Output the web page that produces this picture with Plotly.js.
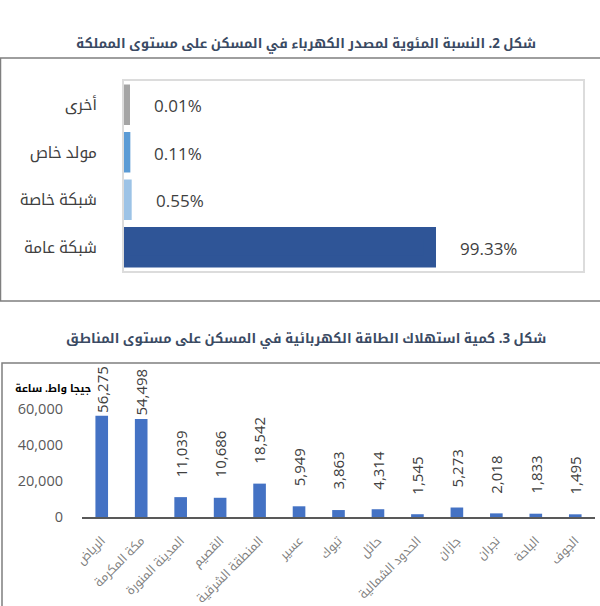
<!DOCTYPE html>
<html>
<head>
<meta charset="utf-8">
<script src="https://cdn.plot.ly/plotly-3.0.1.min.js"></script>
<style>
  html, body { margin: 0; padding: 0; background: #fff; }
</style>
</head>
<body>
<div id="chart" style="width:600px;height:606px;"></div>
<script>
// fig 2: share of dwellings by electricity source (percent)
const sourceNames = ["شبكة عامة", "شبكة خاصة", "مولد خاص", "أخرى"];
const sourceShares = [99.33, 0.55, 0.11, 0.01];
const sourceColors = ["#2f5597", "#9dc3e6", "#5b9bd5", "#a5a5a5"];

// fig 3: household electricity use by region (GWh)
const regionNames = [
  "الرياض", "مكة المكرمة", "المدينة المنورة", "القصيم", "المنطقة الشرقية",
  "عسير", "تبوك", "حائل", "الحدود الشمالية", "جازان", "نجران", "الباحة", "الجوف"
];
const regionUse = [56275, 54498, 11039, 10686, 18542, 5949, 3863, 4314, 1545, 5273, 2018, 1833, 1495];
const useTicks = [0, 20000, 40000, 60000];

const W = 600, H = 606;
// Open Sans for the digits, Arabic glyphs fall through to Noto Kufi
const FONT = 'Open Sans, "Noto Kufi Arabic", "Noto Sans Arabic", sans-serif';
const px = (x) => x / W;
const py = (y) => 1 - y / H;

const useMax = 80000;
const y2Dom = [py(517), py(373)];
const plotH2 = (y2Dom[1] - y2Dom[0]) * H;

const traces = [
  {
    type: "bar",
    orientation: "h",
    x: sourceShares,
    y: sourceNames,
    // thick outline in the bar colour so the tiny shares stay visible
    marker: { color: sourceColors, line: { color: sourceColors, width: 12 } },
    width: 0.6,
    hoverinfo: "x+y",
    xaxis: "x",
    yaxis: "y",
  },
  {
    type: "bar",
    x: regionNames,
    y: regionUse,
    marker: { color: "#4472c4" },
    width: 0.32,
    xaxis: "x2",
    yaxis: "y2",
  },
];

const shareLabels = sourceShares.map((v, i) => ({
  xref: "x",
  yref: "y",
  x: v,
  y: sourceNames[i],
  text: v.toFixed(2) + "%",
  showarrow: false,
  xanchor: "left",
  xshift: 28,
  yshift: -1,
  font: { family: FONT, size: 17, color: "#404040" },
}));

const useLabels = regionUse.map((v, i) => {
  const room = ((useMax - v) / useMax) * plotH2 - 46;
  return {
    xref: "x2",
    yref: "y2",
    x: regionNames[i],
    y: v,
    text: v.toLocaleString("en-US"),
    textangle: -90,
    showarrow: false,
    yanchor: "bottom",
    yshift: Math.max(1, Math.min(18, room)),
    font: { family: FONT, size: 15, color: "#404040" },
  };
});

const layout = {
  width: W,
  height: H,
  margin: { l: 0, r: 0, t: 0, b: 0 },
  paper_bgcolor: "#ffffff",
  plot_bgcolor: "#ffffff",
  showlegend: false,
  font: { family: FONT },
  xaxis: {
    domain: [px(124), px(583)],
    range: [0, 149],
    showticklabels: false,
    showgrid: false,
    zeroline: false,
    showline: true,
    mirror: true,
    linecolor: "#dcdcdc",
    linewidth: 2,
    fixedrange: true,
  },
  yaxis: {
    domain: [py(271), py(81)],
    showgrid: false,
    zeroline: false,
    showline: true,
    mirror: true,
    linecolor: "#dcdcdc",
    linewidth: 2,
    ticklabelstandoff: 22,
    tickfont: { family: FONT, size: 15.5, color: "#404040" },
    fixedrange: true,
  },
  xaxis2: {
    domain: [px(82), px(595)],
    anchor: "y2",
    showgrid: false,
    zeroline: false,
    showline: true,
    linecolor: "#595959",
    linewidth: 2,
    tickangle: -45,
    ticklabelstandoff: 10,
    tickfont: { family: FONT, size: 12, color: "#7f7f7f" },
    fixedrange: true,
  },
  yaxis2: {
    domain: y2Dom,
    anchor: "x2",
    range: [0, useMax],
    tickvals: useTicks,
    tickformat: ",",
    showgrid: false,
    zeroline: false,
    showline: false,
    ticklabelstandoff: 18,
    tickfont: { family: FONT, size: 14.5, color: "#595959" },
    fixedrange: true,
  },
  shapes: [
    {
      type: "rect", xref: "paper", yref: "paper",
      x0: px(0.5), x1: 1.05, y0: py(301), y1: py(58),
      line: { color: "#7f7f7f", width: 1.5 },
    },
    {
      type: "rect", xref: "paper", yref: "paper",
      x0: px(2), x1: 1.05, y0: -0.05, y1: py(363),
      line: { color: "#7f7f7f", width: 1.5 },
    },
  ],
  annotations: [
    {
      xref: "paper", yref: "paper", x: px(306), y: py(32),
      text: "شكل 2. النسبة المئوية لمصدر الكهرباء في المسكن على مستوى المملكة",
      showarrow: false,
      font: { family: FONT, size: 13.3, color: "#3a4a63", weight: "bold" },
    },
    {
      xref: "paper", yref: "paper", x: px(306), y: py(339),
      text: "شكل 3. كمية استهلاك الطاقة الكهربائية في المسكن على مستوى المناطق",
      showarrow: false,
      font: { family: FONT, size: 13.3, color: "#3a4a63", weight: "bold" },
    },
    {
      xref: "paper", yref: "paper", x: px(93), y: py(388),
      xanchor: "right",
      text: "جيجا واط. ساعة",
      showarrow: false,
      font: { family: FONT, size: 10.5, color: "#000000", weight: "bold" },
    },
    ...shareLabels,
    ...useLabels,
  ],
};

Plotly.newPlot("chart", traces, layout, { displayModeBar: false, staticPlot: true });
</script>
</body>
</html>
